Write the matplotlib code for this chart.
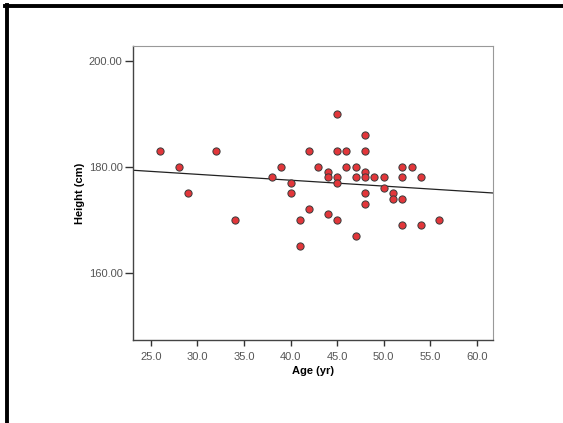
import numpy as np
import matplotlib.pyplot as plt
from matplotlib.lines import Line2D

# age (yr) and height (cm)
ages = [26, 28, 29, 32, 34, 38, 39, 40, 40, 41, 41, 42, 42, 43, 44, 44, 44,
        45, 45, 45, 45, 45, 46, 46, 47, 47, 47, 48, 48, 48, 48, 48, 48, 49,
        50, 50, 51, 51, 52, 52, 52, 52, 53, 54, 54, 56]
heights = [183, 180, 175, 183, 170, 178, 180, 177, 175, 170, 165, 183, 172,
           180, 179, 178, 171, 190, 183, 178, 177, 170, 183, 180, 180, 178,
           167, 186, 183, 179, 178, 175, 173, 178, 178, 176, 175, 174, 180,
           178, 174, 169, 180, 178, 169, 170]

x_ticks = [25, 30, 35, 40, 45, 50, 55, 60]
y_ticks = [160, 180, 200]

plt.rcParams['font.family'] = ['Liberation Sans', 'DejaVu Sans']

fig = plt.figure(figsize=(5.63, 4.23), dpi=100)
ax = fig.add_axes([133 / 563, 1 - 340 / 423, 360 / 563, 294 / 423])

ax.scatter(ages, heights, s=27, color='#e2363a', edgecolor='#3a3a3a',
           linewidth=0.7, zorder=3)

# linear fit line across the whole axis
xlim = (23.07, 61.75)
slope, icpt = np.polyfit(ages, heights, 1)
xs = np.array(xlim)
ax.plot(xs, slope * xs + icpt, color='#222222', lw=0.9, zorder=2)

ax.set_xlim(xlim)
ax.set_ylim(147.3, 202.8)
ax.set_xticks(x_ticks)
ax.set_xticklabels([f"{v:.1f}" for v in x_ticks])
ax.set_yticks(y_ticks)
ax.set_yticklabels([f"{v:.2f}" for v in y_ticks])
ax.tick_params(axis='y', length=6, width=1, color='#333333',
               labelcolor='#555555', labelsize=8, pad=1.5)
ax.tick_params(axis='x', length=4.5, width=1, color='#333333',
               labelcolor='#555555', labelsize=8, pad=4)
ax.set_xlabel('Age (yr)', fontsize=8, fontweight='bold', labelpad=3)
ax.set_ylabel('Height (cm)', fontsize=8, fontweight='bold', labelpad=3)

for side in ['left', 'bottom']:
    ax.spines[side].set_color('#444444')
    ax.spines[side].set_linewidth(1.0)
for side in ['top', 'right']:
    ax.spines[side].set_color('#999999')
    ax.spines[side].set_linewidth(0.8)

# black frame along top and left edge of the image
fig.add_artist(Line2D([5 / 563, 1], [1 - 6.5 / 423] * 2, color='black', lw=2.8,
                      transform=fig.transFigure))
fig.add_artist(Line2D([6.5 / 563] * 2, [0, 1 - 5 / 423], color='black', lw=2.8,
                      transform=fig.transFigure))

fig.savefig('out.png', dpi=100)
